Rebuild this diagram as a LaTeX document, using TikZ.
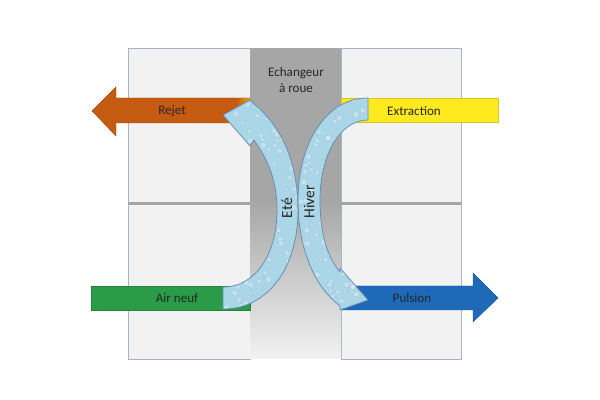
\documentclass[tikz,border=0pt]{standalone}
\usepackage{fontspec}
\setmainfont{Carlito}
\usepackage{xcolor}

\definecolor{rejet}{RGB}{197,90,17}
\definecolor{extract}{RGB}{255,234,32}
\definecolor{airneuf}{RGB}{42,155,72}
\definecolor{pulsion}{RGB}{30,106,184}
\definecolor{wheel}{RGB}{170,214,232}
\definecolor{wheeledge}{RGB}{96,138,178}
\definecolor{wall}{RGB}{242,242,242}
\definecolor{walledge}{RGB}{165,180,202}
\definecolor{core}{RGB}{166,166,166}

\newcommand{\drops}{%
  \foreach \i in {1,...,450} {
    \pgfmathsetmacro{\dx}{215+160*rnd}
    \pgfmathsetmacro{\dy}{95+220*rnd}
    \pgfmathsetmacro{\dr}{0.8+2.4*rnd}
    \draw[wheeledge, draw opacity=.3, fill=white, fill opacity=.3, line width=.2pt] (\dx,\dy) circle (\dr);
  }}

\begin{document}
\begin{tikzpicture}[x=0.025cm, y=-0.025cm, font=\fontsize{9.3}{11.4}\selectfont,
    wallbox/.style={draw=walledge, fill=wall, line width=0.4pt},
    duct/.style={draw=#1!85!black, fill=#1, line width=0.3pt},
    wheelarrow/.style={draw=wheeledge, line width=0.5pt, line join=round},
    lbl/.style={text=black!85, inner sep=1pt},
    season/.style={lbl, rotate=90, font=\fontsize{11}{13}\selectfont}]
  \useasboundingbox (0,0) rectangle (600,400);

  % walls and wheel housing
  \draw[wallbox] (128,48) rectangle (250,204);
  \draw[wallbox] (128,204) rectangle (250,359);
  \draw[wallbox] (341,48) rectangle (461,204);
  \draw[wallbox] (341,204) rectangle (461,359);
  \fill[core] (128,202.5) rectangle (250,205.5);
  \fill[core] (341,202.5) rectangle (461,205.5);
  \fill[core] (250,48) rectangle (341,200);
  \shade[top color=core, bottom color=wall] (250,200) rectangle (341,359);

  % ducts
  \draw[duct=rejet] (250,98) -- (116,98) -- (116,87) -- (92,111) -- (116,136) -- (116,123) -- (250,123) -- cycle;
  \shade[left color=rejet, right color=rejet!55!yellow] (236,98.3) rectangle (250,122.7);
  \draw[duct=extract] (341,98) rectangle (498,122);
  \draw[duct=airneuf] (91,286) rectangle (250,310);
  \draw[duct=pulsion] (341,286) -- (473,286) -- (473,273) -- (498,298) -- (473,322) -- (473,310) -- (341,310) -- cycle;

  % wheel: summer and winter paths
  \path[save path=\etepath] (223,287) -- (223,309)
    .. controls (268,309) and (298,268) .. (298,210)
    .. controls (298,160) and (280,125) .. (254,104)
    -- (250,100) -- (223,115) -- (250,146) -- (254,140)
    .. controls (268,160) and (277,180) .. (277,210)
    .. controls (277,255) and (255,287) .. (223,287) -- cycle;
  \path[save path=\hiverpath] (368,98)
    .. controls (325,98) and (298,145) .. (298,200)
    .. controls (298,250) and (315,287) .. (340,306)
    -- (340,310) -- (368,300) -- (340,268) -- (340,272)
    .. controls (328,258) and (320,235) .. (320,200)
    .. controls (320,155) and (340,120) .. (368,120) -- cycle;
  \pgfmathsetseed{11}
  \begin{scope}
    \fill[wheel, use path=\etepath];
    \clip[use path=\etepath];
    \drops
  \end{scope}
  \begin{scope}
    \fill[wheel, use path=\hiverpath];
    \clip[use path=\hiverpath];
    \drops
  \end{scope}
  \draw[wheelarrow, use path=\etepath];
  \draw[wheelarrow, use path=\hiverpath];

  % labels
  \node[lbl, align=center] (ech) at (296,80) {Echangeur\\à roue};
  \node[lbl] (rej) at (172,111) {Rejet};
  \node[lbl] (ext) at (414,111) {Extraction};
  \node[lbl] (air) at (177,298) {Air neuf};
  \node[lbl] (pul) at (412,298) {Pulsion};
  \node[season] (ete) at (287,208) {Eté};
  \node[season] (hiv) at (309,202) {Hiver};
\end{tikzpicture}
\end{document}
